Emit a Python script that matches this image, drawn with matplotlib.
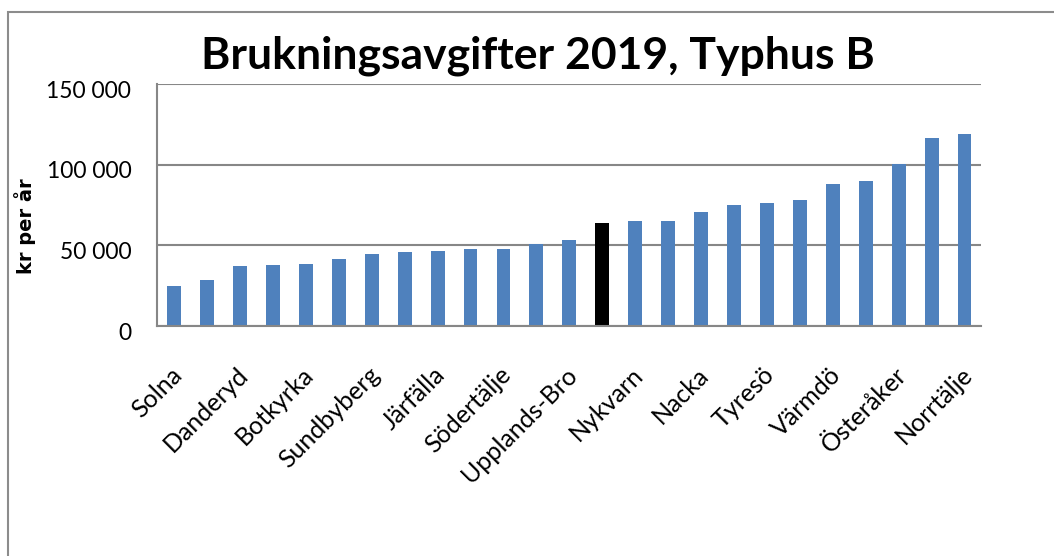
import matplotlib
matplotlib.use("Agg")
import matplotlib.pyplot as plt
import matplotlib.transforms as mtransforms
from matplotlib.patches import Rectangle

plt.rcParams['font.family'] = ['Lato', 'DejaVu Sans']

# kommuner, sorterade efter avgift (bara varannan visas som etikett)
kommuner = ["Solna", "Stockholm", "Danderyd", "Sollentuna", "Botkyrka",
            "Huddinge", "Sundbyberg", "Lidingö", "Järfälla", "Täby",
            "Södertälje", "Sigtuna", "Upplands-Bro", "Medel", "Nykvarn",
            "Haninge", "Nacka", "Salem", "Tyresö", "Vallentuna",
            "Värmdö", "Ekerö", "Österåker", "Vaxholm", "Norrtälje"]
avgift = [24700, 28400, 37100, 37700, 38300,
          41400, 44500, 45800, 46400, 47600,
          47600, 50700, 53200, 63800, 65000,
          65000, 70600, 75000, 76200, 78100,
          88000, 89900, 100400, 116600, 119100]
yticks = [0, 50000, 100000, 150000]

W, H = 1054, 556
fig = plt.figure(figsize=(W / 100, H / 100), dpi=100)
ax = fig.add_axes([157 / W, 1 - 326 / H, (981 - 157) / W, (326 - 84) / H])

grid_col = "#878787"
farger = ["#000000" if k == "Medel" else "#4F81BD" for k in kommuner]
x = list(range(len(kommuner)))
ax.bar(x, avgift, width=0.42, color=farger, zorder=3)

ax.set_xlim(-0.52, len(kommuner) - 0.5)
ax.set_ylim(0, 150000)
ax.set_yticks(yticks)
ax.set_yticklabels([f"{v:,}".replace(",", " ") for v in yticks], fontsize=16.5)
ax.yaxis.grid(True, color=grid_col, linewidth=1.5, zorder=0)
ax.tick_params(axis='y', length=0, pad=18.5)
ax.tick_params(axis='x', length=0, pad=0)

# y-etiketter lite under linjen, som i Excel
off = mtransforms.ScaledTranslation(0, -5 / 100, fig.dpi_scale_trans)
for lbl in ax.get_yticklabels():
    lbl.set_transform(lbl.get_transform() + off)

ax.set_xticks(x[::2])
ax.set_xticklabels(kommuner[::2], fontsize=18, rotation=45,
                   ha='right', va='center', rotation_mode='anchor')
offx = mtransforms.ScaledTranslation(4 / 100, -45 / 100, fig.dpi_scale_trans)
for lbl in ax.get_xticklabels():
    lbl.set_transform(lbl.get_transform() + offx)

for s in ['top', 'right']:
    ax.spines[s].set_visible(False)
for s in ['left', 'bottom']:
    ax.spines[s].set_color(grid_col)
    ax.spines[s].set_linewidth(1.5)
    ax.spines[s].set_zorder(4)

fig.text(537.5 / W, 1 - 68 / H, "Brukningsavgifter 2019, Typhus B",
         fontsize=32, fontweight='bold', ha='center', va='baseline')
fig.text(25 / W, 1 - 226 / H, "kr per år", fontsize=14, fontweight='bold',
         family='DejaVu Sans', rotation=90, ha='center', va='center')

# ram runt diagramytan (höger och nederkant utanför bilden)
fig.patches.append(Rectangle((8 / W, -0.2), 1.2, 1.2 - 12 / H,
                             transform=fig.transFigure, fill=False,
                             edgecolor="#8c8c8c", linewidth=1.5))

fig.savefig("out.png", dpi=100)
